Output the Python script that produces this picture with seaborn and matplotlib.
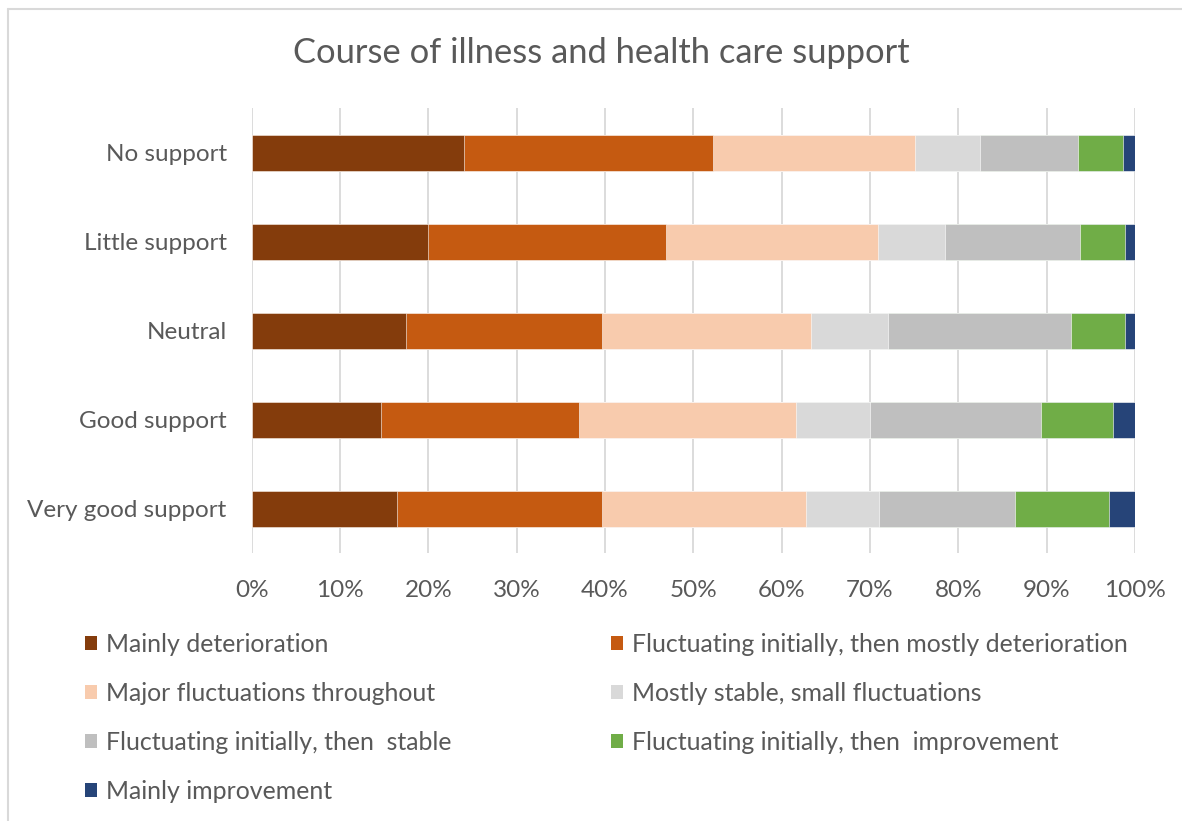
import numpy as np
import pandas as pd
import matplotlib
matplotlib.use("Agg")
import matplotlib.pyplot as plt
import seaborn as sns
from matplotlib.patches import Patch
from matplotlib.lines import Line2D

categories = ["No support", "Little support", "Neutral", "Good support", "Very good support"]
series_names = [
    "Mainly deterioration",
    "Fluctuating initially, then mostly deterioration",
    "Major fluctuations throughout",
    "Mostly stable, small fluctuations",
    "Fluctuating initially, then  stable",
    "Fluctuating initially, then  improvement",
    "Mainly improvement",
]
mainly_deterioration = [24.0, 20.0, 17.5, 14.6, 16.5]
fluct_then_deterioration = [28.2, 26.9, 22.2, 22.4, 23.2]
major_fluctuations = [22.9, 24.0, 23.6, 24.6, 23.0]
mostly_stable = [7.3, 7.6, 8.7, 8.4, 8.3]
fluct_then_stable = [11.1, 15.3, 20.7, 19.4, 15.4]
fluct_then_improvement = [5.1, 5.1, 6.2, 8.1, 10.7]
mainly_improvement = [1.4, 1.1, 1.1, 2.5, 2.9]
x_ticks = [0, 10, 20, 30, 40, 50, 60, 70, 80, 90, 100]
x_tick_labels = ["0%", "10%", "20%", "30%", "40%", "50%", "60%", "70%", "80%", "90%", "100%"]

colors = ["#843C0C", "#C55A11", "#F8CBAD", "#D9D9D9", "#BFBFBF", "#70AD47", "#264478"]

series = [mainly_deterioration, fluct_then_deterioration, major_fluctuations,
          mostly_stable, fluct_then_stable, fluct_then_improvement, mainly_improvement]
vals = np.array(series, dtype=float)
vals = vals / vals.sum(axis=0) * 100
cum = np.cumsum(vals, axis=0)

sns.set_theme(style="white")
FONT = ["Lato", "DejaVu Sans"]
plt.rcParams["font.family"] = FONT
TXT = "#595959"

fig = plt.figure(figsize=(11.82, 8.21), dpi=100)
W, H = 1182, 821
# outer chart frame (left and top edges visible)
fig.add_artist(Line2D([7.5 / W, 7.5 / W], [0, 1 - 9.5 / H], transform=fig.transFigure,
                      color="#D9D9D9", linewidth=1.5))
fig.add_artist(Line2D([7.5 / W, 1.0], [1 - 9.5 / H, 1 - 9.5 / H], transform=fig.transFigure,
                      color="#D9D9D9", linewidth=1.5))

left, right, top, bottom = 251.7, 1135.0, 108.2, 553.2
ax = fig.add_axes([left / W, 1 - bottom / H, (right - left) / W, (bottom - top) / H])

for i in range(len(series) - 1, -1, -1):
    df = pd.DataFrame({"category": categories, "value": cum[i]})
    sns.barplot(data=df, y="category", x="value", orient="h", color=colors[i],
                width=0.4, ax=ax, edgecolor="white", linewidth=0.4, saturation=1)

ax.set_xlim(0, 100)
ax.set_ylim(4.5, -0.5)
ax.set_xticks(x_ticks)
ax.set_xticklabels(x_tick_labels)
ax.set_xlabel("")
ax.set_ylabel("")
ax.grid(axis="x", color="#D9D9D9", linewidth=1.3)
ax.set_axisbelow(True)
for s in ax.spines.values():
    s.set_visible(False)
ax.tick_params(axis="x", length=0, pad=19, labelsize=17.5, labelcolor=TXT)
ax.tick_params(axis="y", length=0, pad=18, labelsize=17.5, labelcolor=TXT)

fig.text(601 / W, 1 - 53 / H, "Course of illness and health care support", ha="center",
         va="center", fontsize=24.8, color=TXT, fontweight="normal")

handles = [Patch(facecolor=c, edgecolor="none") for c in colors]
leg_kw = dict(frameon=False, fontsize=17.9, labelcolor=TXT, handlelength=0.5, handleheight=0.5,
              handletextpad=0.36, labelspacing=1.04, borderpad=0, borderaxespad=0,
              loc="upper left")
fig.legend([handles[i] for i in (0, 2, 4, 6)], [series_names[i] for i in (0, 2, 4, 6)],
           bbox_to_anchor=(85 / W, 1 - 633 / H), **leg_kw)
fig.legend([handles[i] for i in (1, 3, 5)], [series_names[i] for i in (1, 3, 5)],
           bbox_to_anchor=(611 / W, 1 - 633 / H), **leg_kw)

fig.savefig("out.png", dpi=100, facecolor="white")
